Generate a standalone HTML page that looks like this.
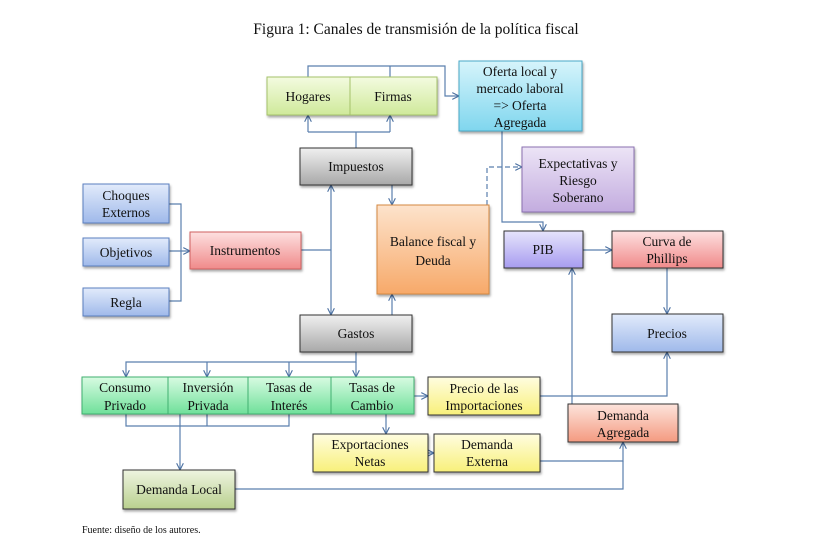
<!DOCTYPE html>
<html><head><meta charset="utf-8"><style>
html,body{margin:0;padding:0;background:#fff;width:832px;height:554px;overflow:hidden}
svg text{font-family:"Liberation Serif",serif;font-size:13.5px;fill:#111;text-anchor:middle}
</style></head><body>
<svg width="832" height="554" viewBox="0 0 832 554" xmlns="http://www.w3.org/2000/svg">
<defs>
<linearGradient id="gGreenL" x1="0" y1="0" x2="0" y2="1"><stop offset="0" stop-color="#f3fbe0"/><stop offset="1" stop-color="#cfe99a"/></linearGradient>
<linearGradient id="gCyan" x1="0" y1="0" x2="0" y2="1"><stop offset="0" stop-color="#d6f4fb"/><stop offset="1" stop-color="#7fd6ee"/></linearGradient>
<linearGradient id="gGray" x1="0" y1="0" x2="0" y2="1"><stop offset="0" stop-color="#f0f0f0"/><stop offset="1" stop-color="#a8a8a8"/></linearGradient>
<linearGradient id="gPurp" x1="0" y1="0" x2="0" y2="1"><stop offset="0" stop-color="#ece4f6"/><stop offset="1" stop-color="#c3acdf"/></linearGradient>
<linearGradient id="gBlue" x1="0" y1="0" x2="0" y2="1"><stop offset="0" stop-color="#e2ebfb"/><stop offset="1" stop-color="#9fb9ea"/></linearGradient>
<linearGradient id="gRed" x1="0" y1="0" x2="0" y2="1"><stop offset="0" stop-color="#fde0e0"/><stop offset="1" stop-color="#f08a8a"/></linearGradient>
<linearGradient id="gOr" x1="0" y1="0" x2="0" y2="1"><stop offset="0" stop-color="#fde3cc"/><stop offset="1" stop-color="#f7a969"/></linearGradient>
<linearGradient id="gPIB" x1="0" y1="0" x2="0" y2="1"><stop offset="0" stop-color="#e6e4fb"/><stop offset="1" stop-color="#a79cf0"/></linearGradient>
<linearGradient id="gGreen" x1="0" y1="0" x2="0" y2="1"><stop offset="0" stop-color="#d8fbe2"/><stop offset="1" stop-color="#6fe09a"/></linearGradient>
<linearGradient id="gYel" x1="0" y1="0" x2="0" y2="1"><stop offset="0" stop-color="#fffde0"/><stop offset="1" stop-color="#f8f07a"/></linearGradient>
<linearGradient id="gSal" x1="0" y1="0" x2="0" y2="1"><stop offset="0" stop-color="#fde4dc"/><stop offset="1" stop-color="#f49a80"/></linearGradient>
<linearGradient id="gOl" x1="0" y1="0" x2="0" y2="1"><stop offset="0" stop-color="#eef4e0"/><stop offset="1" stop-color="#b9d08e"/></linearGradient>
<marker id="a" viewBox="0 0 10 10" refX="9" refY="5" markerWidth="7" markerHeight="7" orient="auto"><path d="M1,1 L9,5 L1,9" fill="none" stroke="#4a6fa0" stroke-width="1.3"/></marker>
<filter id="sh" x="-10%" y="-10%" width="130%" height="140%"><feDropShadow dx="1" dy="2" stdDeviation="1.2" flood-color="#000" flood-opacity="0.35"/></filter>
</defs>
<text x="416" y="34" style="font-size:15.5px">Figura 1: Canales de transmisión de la política fiscal</text>

<g fill="none" stroke="#5a7fae" stroke-width="1.2">
<path d="M308,77 V66 H445 V96 H459" marker-end="url(#a)"/>
<path d="M390,77 V66"/>
<path d="M356,148 V132 M308,132 H390 M308,132 V115" marker-end="url(#a)"/>
<path d="M390,132 V115" marker-end="url(#a)"/>
<path d="M392,185 V205" marker-end="url(#a)"/>
<path d="M487,205 V167 H522" stroke-dasharray="5,3" marker-end="url(#a)"/>
<path d="M502,131 V222 H543 V231" marker-end="url(#a)"/>
<path d="M583,250 H612" marker-end="url(#a)"/>
<path d="M667,268 V314" marker-end="url(#a)"/>
<path d="M169,204 H181 V301 H169 M169,251 H190" marker-end="url(#a)"/>
<path d="M301,250 H331 M331,250 V185" marker-end="url(#a)"/>
<path d="M331,250 V315" marker-end="url(#a)"/>
<path d="M392,315 V294" marker-end="url(#a)"/>
<path d="M356,352 V362 H126 V377" marker-end="url(#a)"/>
<path d="M207,362 V377" marker-end="url(#a)"/>
<path d="M289,362 V377" marker-end="url(#a)"/>
<path d="M356,362 V377" marker-end="url(#a)"/>
<path d="M414,396 H428" marker-end="url(#a)"/>
<path d="M540,396 H667 V352" marker-end="url(#a)"/>
<path d="M572,404 V268" marker-end="url(#a)"/>
<path d="M126,414 V426 H289 V414 M207,414 V426"/>
<path d="M180,414 V470" marker-end="url(#a)"/>
<path d="M386,414 V434" marker-end="url(#a)"/>
<path d="M428,453 H434" marker-end="url(#a)"/>
<path d="M540,461 H623 V442" marker-end="url(#a)"/>
<path d="M235,489 H623 V461"/>
</g>

<g stroke="#555" stroke-width="1" filter="url(#sh)">
<rect x="267" y="77" width="83" height="38" fill="url(#gGreenL)" stroke="#a5c26a"/>
<rect x="350" y="77" width="87" height="38" fill="url(#gGreenL)" stroke="#a5c26a"/>
<rect x="459" y="61" width="123" height="70" fill="url(#gCyan)" stroke="#49a9c8"/>
<rect x="300" y="148" width="112" height="37" fill="url(#gGray)" stroke="#333"/>
<rect x="522" y="147" width="112" height="65" fill="url(#gPurp)" stroke="#8a70b0"/>
<rect x="83" y="184" width="86" height="39" fill="url(#gBlue)" stroke="#5a7fc0"/>
<rect x="83" y="238" width="86" height="28" fill="url(#gBlue)" stroke="#5a7fc0"/>
<rect x="83" y="288" width="86" height="28" fill="url(#gBlue)" stroke="#5a7fc0"/>
<rect x="190" y="232" width="111" height="37" fill="url(#gRed)" stroke="#d06060"/>
<rect x="377" y="205" width="112" height="89" fill="url(#gOr)" stroke="#d58840"/>
<rect x="504" y="231" width="79" height="37" fill="url(#gPIB)" stroke="#333"/>
<rect x="612" y="231" width="111" height="37" fill="url(#gRed)" stroke="#333"/>
<rect x="300" y="315" width="112" height="37" fill="url(#gGray)" stroke="#333"/>
<rect x="612" y="314" width="111" height="38" fill="url(#gBlue)" stroke="#333"/>
<rect x="82" y="377" width="86" height="37" fill="url(#gGreen)" stroke="#40b070"/>
<rect x="168" y="377" width="80" height="37" fill="url(#gGreen)" stroke="#40b070"/>
<rect x="248" y="377" width="83" height="37" fill="url(#gGreen)" stroke="#40b070"/>
<rect x="331" y="377" width="83" height="37" fill="url(#gGreen)" stroke="#40b070"/>
<rect x="428" y="377" width="112" height="38" fill="url(#gYel)" stroke="#333"/>
<rect x="568" y="404" width="110" height="38" fill="url(#gSal)" stroke="#333"/>
<rect x="313" y="434" width="115" height="38" fill="url(#gYel)" stroke="#333"/>
<rect x="434" y="434" width="106" height="38" fill="url(#gYel)" stroke="#333"/>
<rect x="123" y="470" width="112" height="39" fill="url(#gOl)" stroke="#333"/>
</g>

<text x="308" y="101">Hogares</text>
<text x="393" y="101">Firmas</text>
<text x="520" y="76">Oferta local y</text>
<text x="520" y="93">mercado laboral</text>
<text x="520" y="110">=&gt; Oferta</text>
<text x="520" y="127">Agregada</text>
<text x="356" y="171">Impuestos</text>
<text x="578" y="168">Expectativas y</text>
<text x="578" y="185">Riesgo</text>
<text x="578" y="202">Soberano</text>
<text x="126" y="200">Choques</text>
<text x="126" y="217">Externos</text>
<text x="126" y="257">Objetivos</text>
<text x="126" y="307">Regla</text>
<text x="245" y="255">Instrumentos</text>
<text x="433" y="246">Balance fiscal y</text>
<text x="433" y="265">Deuda</text>
<text x="543" y="254">PIB</text>
<text x="667" y="246">Curva de</text>
<text x="667" y="263">Phillips</text>
<text x="356" y="338">Gastos</text>
<text x="667" y="338">Precios</text>
<text x="125" y="392">Consumo</text>
<text x="125" y="410">Privado</text>
<text x="208" y="392">Inversión</text>
<text x="208" y="410">Privada</text>
<text x="289" y="392">Tasas de</text>
<text x="289" y="410">Interés</text>
<text x="372" y="392">Tasas de</text>
<text x="372" y="410">Cambio</text>
<text x="484" y="393">Precio de las</text>
<text x="484" y="410">Importaciones</text>
<text x="623" y="420">Demanda</text>
<text x="623" y="437">Agregada</text>
<text x="370" y="449">Exportaciones</text>
<text x="370" y="466">Netas</text>
<text x="487" y="449">Demanda</text>
<text x="487" y="466">Externa</text>
<text x="179" y="494">Demanda Local</text>
<text x="82" y="533" style="font-size:10px;text-anchor:start">Fuente: diseño de los autores.</text>
</svg>
</body></html>
